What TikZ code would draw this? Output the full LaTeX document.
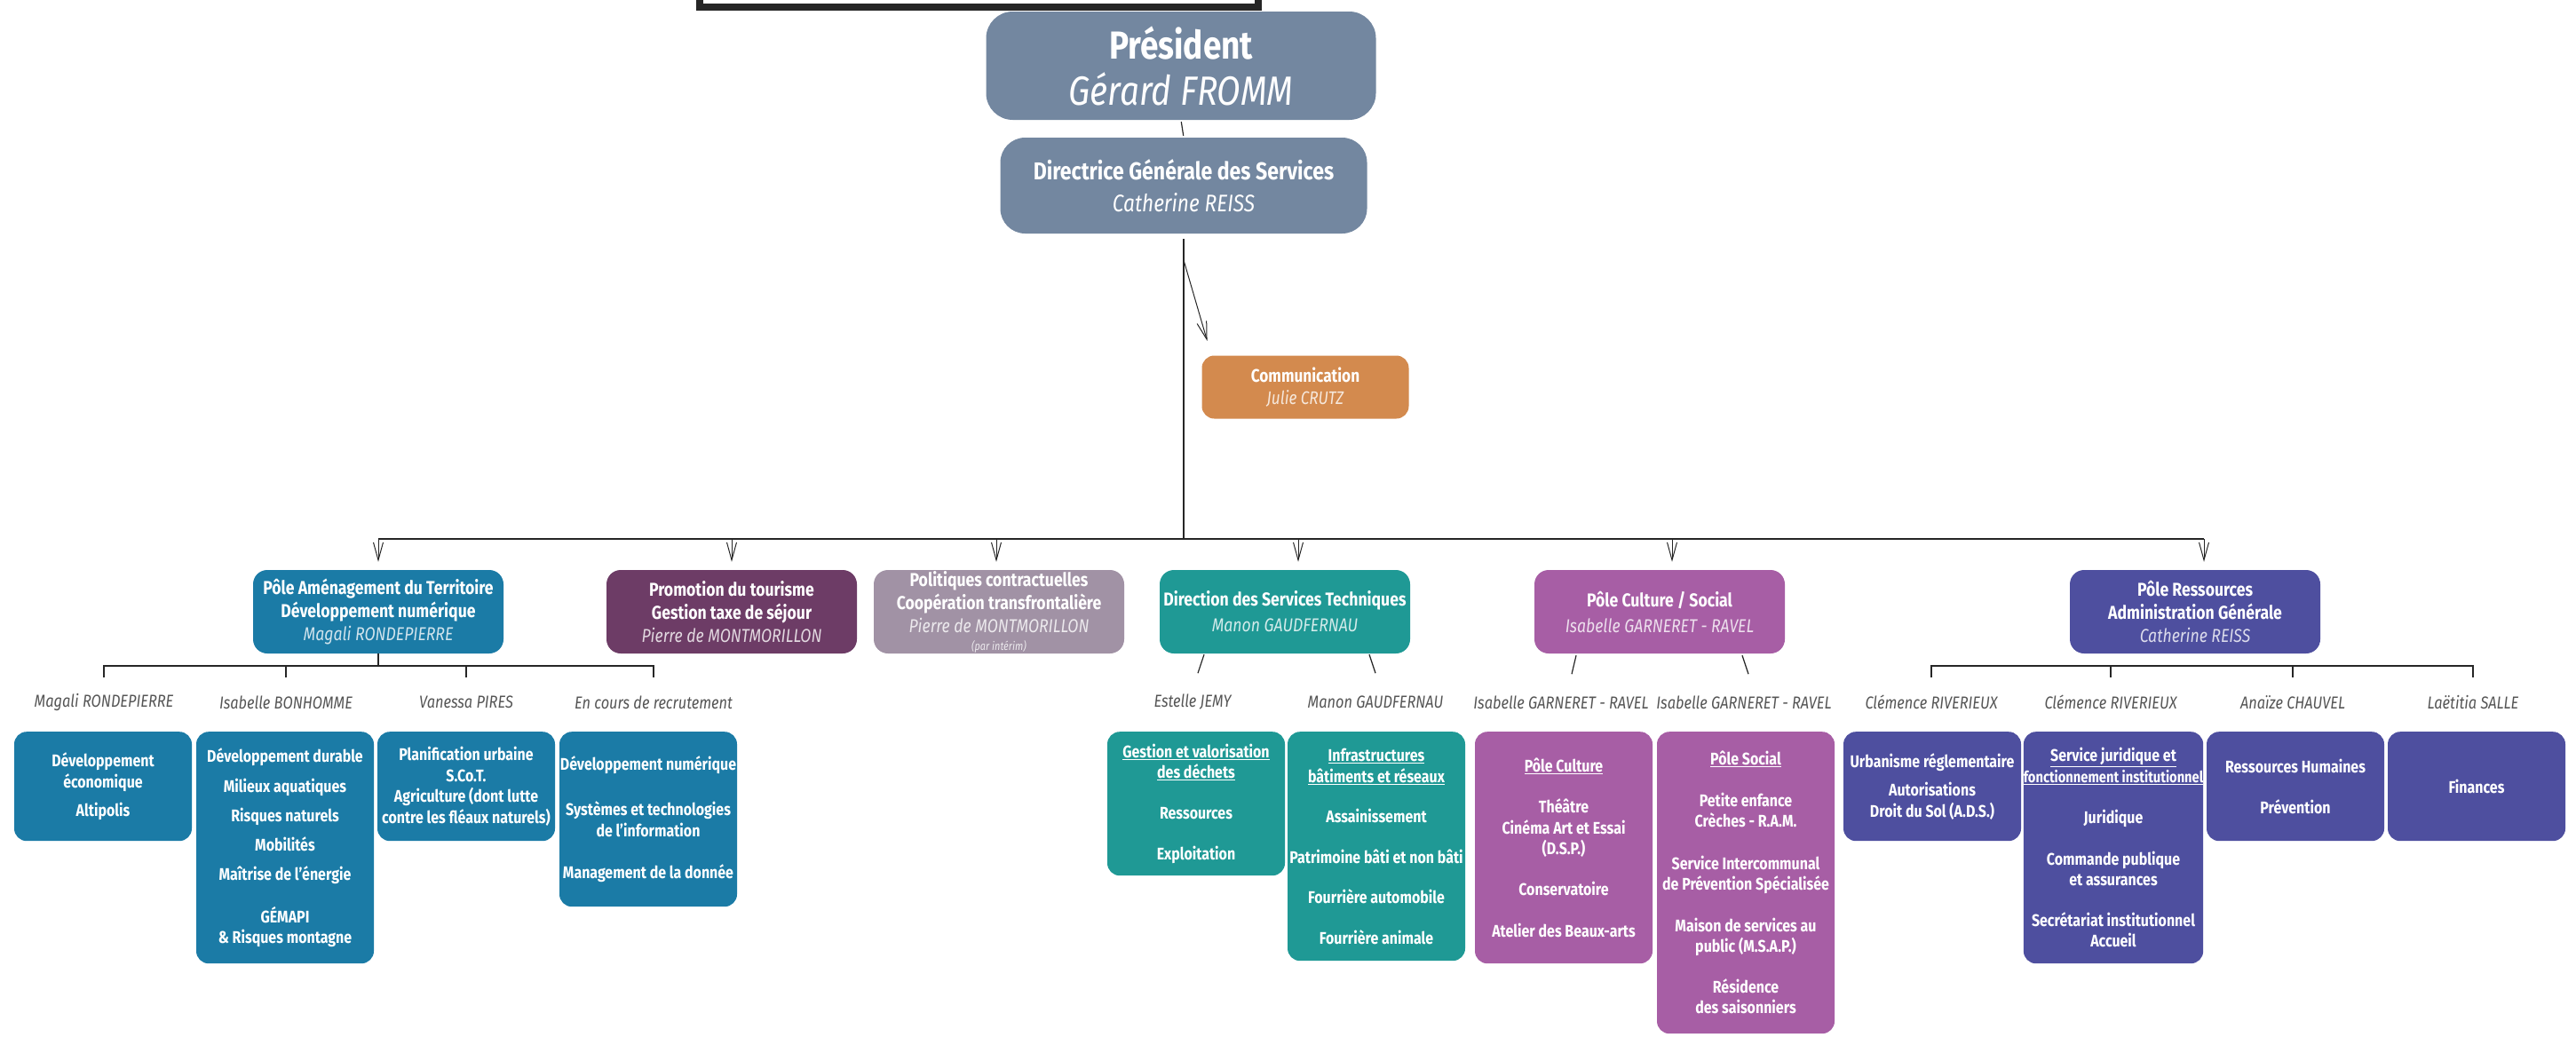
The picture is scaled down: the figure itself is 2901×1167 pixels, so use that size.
\documentclass[tikz,border=0pt]{standalone}
\usepackage{fontspec}
\setmainfont{Fira Sans}[FakeStretch=0.84]
\usetikzlibrary{arrows.meta}
\definecolor{chiefslate}{RGB}{115,135,160}
\definecolor{commorange}{RGB}{211,138,78}
\definecolor{amenblue}{RGB}{27,123,166}
\definecolor{tourplum}{RGB}{109,60,102}
\definecolor{politmauve}{RGB}{161,146,165}
\definecolor{techteal}{RGB}{31,153,149}
\definecolor{cultviolet}{RGB}{167,94,165}
\definecolor{resindigo}{RGB}{78,79,159}
\definecolor{namegray}{RGB}{85,85,85}
\newcommand{\boxname}[2]{{\mdseries\itshape\color{white!80!#1}#2}}
\tikzset{
    chief-box/.style = {fill=chiefslate, text=white, rounded corners=28pt, align=center, inner sep=0pt},
    pole-box/.style = {text=white, rounded corners=16pt, align=center, minimum width=282pt, minimum height=94pt, inner sep=0pt, font=\bfseries\fontsize{21}{26}\selectfont},
    item-box/.style = {text=white, rounded corners=14pt, align=center, anchor=north, minimum width=200pt, inner sep=0pt, font=\bfseries\fontsize{19}{23.5}\selectfont},
    staff-name/.style = {text=namegray, font=\itshape\fontsize{19.5}{22}\selectfont, inner sep=0pt},
    org-line/.style = {line width=1.6pt, draw=black!85},
    down-arrow/.style = {draw=black!85, line width=1pt, -{Straight Barb[length=20pt, width=11pt]}},
}

\begin{document}
\begin{tikzpicture}[x=1pt, y=-1pt]
\useasboundingbox (0,0) rectangle (2901,1167);
\draw[line width=8pt, fill=white, draw=black!85] (788,-30) rectangle (1417,8);

% direction
\node[chief-box, minimum width=439pt, minimum height=122pt, rounded corners=30pt, font=\fontsize{44}{52}\selectfont] (pres) at (1330,74) {\bfseries Président\\{\itshape\fontsize{46}{52}\selectfont Gérard FROMM}};
\node[chief-box, minimum width=413pt, minimum height=108pt, font=\fontsize{27.5}{36}\selectfont] (dgs) at (1333,209) {\bfseries Directrice Générale des Services\\{\itshape\fontsize{27}{36}\selectfont Catherine REISS}};
\node[chief-box, fill=commorange, minimum width=233pt, minimum height=71pt, rounded corners=14pt, font=\fontsize{20.5}{25}\selectfont] (comm) at (1470,436) {\bfseries Communication\\\boxname{commorange}{Julie CRUTZ}};

% poles
\node[pole-box, fill=amenblue] (amen) at (426,689) {Pôle Aménagement du Territoire\\Développement numérique\\\boxname{amenblue}{Magali RONDEPIERRE}};
\node[pole-box, fill=tourplum] (promo) at (824,689) {Promotion du tourisme\\Gestion taxe de séjour\\\boxname{tourplum}{Pierre de MONTMORILLON}};
\node[pole-box, fill=politmauve] (polit) at (1125,689) {Politiques contractuelles\\Coopération transfrontalière\\\boxname{politmauve}{Pierre de MONTMORILLON}\\[-6pt]\boxname{politmauve}{\fontsize{13}{14}\selectfont (par intérim)}};
\node[pole-box, fill=techteal] (dst) at (1447,689) {Direction des Services Techniques\\[3pt]\boxname{techteal}{Manon GAUDFERNAU}};
\node[pole-box, fill=cultviolet] (cult) at (1869,689) {Pôle Culture / Social\\[3pt]\boxname{cultviolet}{Isabelle GARNERET - RAVEL}};
\node[pole-box, fill=resindigo] (ress) at (2472,689) {Pôle Ressources\\Administration Générale\\\boxname{resindigo}{Catherine REISS}};

% agents
\node[staff-name] (m1) at (117,791) {Magali RONDEPIERRE};
\node[staff-name] (m2) at (322,791) {Isabelle BONHOMME};
\node[staff-name] (m3) at (525,791) {Vanessa PIRES};
\node[staff-name] (m4) at (736,791) {En cours de recrutement};
\node[staff-name] (e1) at (1343,791) {Estelle JEMY};
\node[staff-name] (e2) at (1549,791) {Manon GAUDFERNAU};
\node[staff-name] (g1) at (1758,791) {Isabelle GARNERET - RAVEL};
\node[staff-name] (g2) at (1964,791) {Isabelle GARNERET - RAVEL};
\node[staff-name] (r1) at (2175,791) {Clémence RIVERIEUX};
\node[staff-name] (r2) at (2377,791) {Clémence RIVERIEUX};
\node[staff-name] (r3) at (2582,791) {Anaïze CHAUVEL};
\node[staff-name] (r4) at (2785,791) {Laëtitia SALLE};

% services
\node[item-box, fill=amenblue, minimum height=123pt] (s1) at (116,824) {Développement\\économique\\[9pt]Altipolis};
\node[item-box, fill=amenblue, minimum height=261pt] (s2) at (321,824) {Développement durable\\[10pt]Milieux aquatiques\\[10pt]Risques naturels\\[9pt]Mobilités\\[10pt]Maîtrise de l’énergie\\[24pt]GÉMAPI\\\& Risques montagne};
\node[item-box, fill=amenblue, minimum height=123pt] (s3) at (525,824) {Planification urbaine\\S.Co.T.\\Agriculture (dont lutte\\contre les fléaux naturels)};
\node[item-box, fill=amenblue, minimum height=197pt] (s4) at (730,824) {Développement numérique\\[28pt]Systèmes et technologies\\de l’information\\[24pt]Management de la donnée};
\node[item-box, fill=techteal, minimum height=162pt] (s5) at (1347,824) {\underline{Gestion et valorisation}\\\underline{des déchets}\\[22pt]Ressources\\[23pt]Exploitation};
\node[item-box, fill=techteal, minimum height=258pt] (s6) at (1550,824) {\underline{Infrastructures}\\\underline{bâtiments et réseaux}\\[22pt]Assainissement\\[22pt]Patrimoine bâti et non bâti\\[22pt]Fourrière automobile\\[22pt]Fourrière animale};
\node[item-box, fill=cultviolet, minimum height=261pt] (s7) at (1761,824) {\underline{Pôle Culture}\\[23pt]Théâtre\\Cinéma Art et Essai\\(D.S.P.)\\[22pt]Conservatoire\\[24pt]Atelier des Beaux-arts};
\node[item-box, fill=cultviolet, minimum height=340pt] (s8) at (1966,824) {\underline{Pôle Social}\\[23pt]Petite enfance\\Crèches - R.A.M.\\[24pt]Service Intercommunal\\de Prévention Spécialisée\\[23pt]Maison de services au\\public (M.S.A.P.)\\[22pt]Résidence\\des saisonniers};
\node[item-box, fill=resindigo, minimum height=123pt] (s9) at (2176,824) {Urbanisme réglementaire\\[9pt]Autorisations\\Droit du Sol (A.D.S.)};
\node[item-box, fill=resindigo, minimum height=261pt] (s10) at (2380,824) {\underline{Service juridique et}\\\underline{\fontsize{17.5}{23.5}\selectfont fonctionnement institutionnel}\\[23pt]Juridique\\[23pt]Commande publique\\et assurances\\[22pt]Secrétariat institutionnel\\Accueil};
\node[item-box, fill=resindigo, minimum height=123pt] (s11) at (2585,824) {Ressources Humaines\\[22pt]Prévention};
\node[item-box, fill=resindigo, minimum height=123pt] (s12) at (2789,824) {Finances};

% links
\coordinate (bus) at (1333,607);
\coordinate (commfork) at (1333,293);
\draw[org-line, line width=1.2pt, shorten <=2pt, shorten >=2pt] (pres.south) -- (dgs.north);
\draw[org-line, line width=1.2pt, shorten <=6pt] (dgs.south) -- (bus);
\draw[down-arrow, shorten >=17pt] (commfork) -- ([xshift=11pt]comm.north west);
\draw[org-line, line width=1.2pt] (amen.north |- bus) -- ([xshift=10pt]ress.north |- bus);
\foreach \n/\dx in {amen/0, promo/0, polit/-3, dst/15, cult/14, ress/10}
    \draw[down-arrow, shorten >=9pt] ([xshift=\dx pt]\n.north |- bus) -- ([xshift=\dx pt]\n.north);

\draw[org-line] (amen.south) -- ++(0,14);
\draw[org-line] ([yshift=28pt]m1.center) |- ([yshift=41pt]m4.center) -- ([yshift=28pt]m4.center);
\foreach \n in {m2, m3}
    \draw[org-line] ([yshift=28pt]\n.center) -- ++(0,-13);
\draw[org-line] ([yshift=28pt]r1.center) |- ([yshift=41pt]r4.center) -- ([yshift=28pt]r4.center);
\foreach \n in {r2, r3}
    \draw[org-line] ([yshift=28pt]\n.center) -- ++(0,-13);

\draw[org-line, line width=1.2pt] ([xshift=-91pt,yshift=-1pt]dst.south) -- ++(-7,21);
\draw[org-line, line width=1.2pt] ([xshift=95pt,yshift=-1pt]dst.south) -- ++(7,21);
\draw[org-line, line width=1.2pt] ([xshift=-94pt,yshift=-2pt]cult.south) -- ++(-5,21);
\draw[org-line, line width=1.2pt] ([xshift=93pt,yshift=-2pt]cult.south) -- ++(7,21);
\end{tikzpicture}
\end{document}
